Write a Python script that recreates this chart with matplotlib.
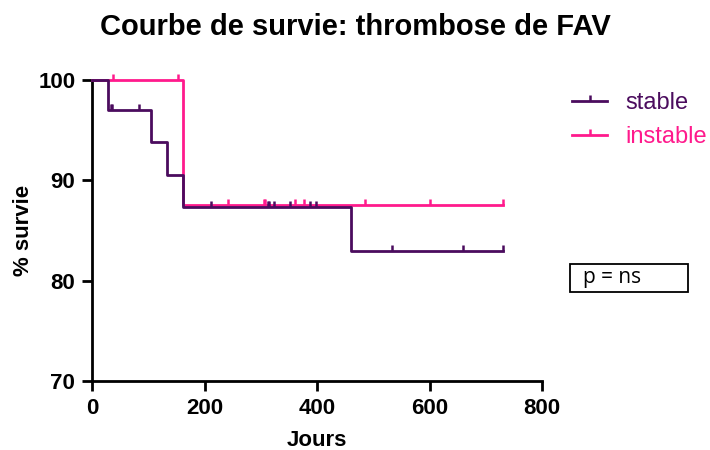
import matplotlib
matplotlib.use("Agg")
import matplotlib.pyplot as plt
from matplotlib.path import Path
from matplotlib.lines import Line2D
from matplotlib.patches import Rectangle

plt.rcParams['font.family'] = ['Liberation Sans', 'DejaVu Sans']

# step curves (day of change, survival after change)
stable_t = [0, 28, 105, 133, 162, 461, 731]
stable_s = [100, 97.0, 93.8, 90.5, 87.3, 83.0, 83.0]
instable_t = [0, 162, 731]
instable_s = [100, 87.5, 87.5]

# censored observations
stable_cens_t = [33, 35, 84, 212, 312, 314, 324, 352, 388, 399, 534, 659, 731]
instable_cens_t = [38, 152, 241, 306, 308, 361, 376, 485, 601, 731]

c_stable = '#4b0c5e'
c_instable = '#ff1a8c'

tick_up = Path([(0, 0), (0, 1)], [Path.MOVETO, Path.LINETO])


def surv_at(ts, ss, t):
    val = ss[0]
    for ti, si in zip(ts, ss):
        if t >= ti:
            val = si
    return val


fig = plt.figure(figsize=(7.1, 4.5), dpi=100)
ax = fig.add_axes([92 / 710, 69 / 450, 450 / 710, 301 / 450])

for ts, ss, cens, col in [(instable_t, instable_s, instable_cens_t, c_instable),
                          (stable_t, stable_s, stable_cens_t, c_stable)]:
    ax.step(ts, ss, where='post', color=col, lw=2, zorder=3, clip_on=False)
    ax.plot(cens, [surv_at(ts, ss, t) for t in cens], ls='none', marker=tick_up,
            ms=9, mew=1.8, color=col, zorder=4, clip_on=False)

ax.set_xlim(0, 800)
ax.set_ylim(70, 100)
ax.set_xticks([0, 200, 400, 600, 800])
ax.set_yticks([70, 80, 90, 100])
for s in ['top', 'right']:
    ax.spines[s].set_visible(False)
for s in ['left', 'bottom']:
    ax.spines[s].set_linewidth(2)
ax.tick_params(width=2, length=7, labelsize=16, pad=5)
for lab in ax.get_xticklabels() + ax.get_yticklabels():
    lab.set_fontweight('bold')

ax.set_xlabel('Jours', fontsize=16, fontweight='bold', labelpad=8)
ax.set_ylabel('% survie', fontsize=16, fontweight='bold', labelpad=3)
fig.suptitle('Courbe de survie: thrombose de FAV', fontsize=21, fontweight='bold', y=0.972)

handles = [Line2D([], [], color=c_stable, lw=2, marker=tick_up, ms=9, mew=1.8),
           Line2D([], [], color=c_instable, lw=2, marker=tick_up, ms=9, mew=1.8)]
leg = fig.legend(handles, ['stable', 'instable'], loc='upper left',
                 bbox_to_anchor=(572 / 710, 1 - 92 / 450), frameon=False,
                 borderaxespad=0, borderpad=0,
                 fontsize=17, numpoints=1, handlelength=1.5, handletextpad=0.75,
                 labelspacing=0.52)
for txt, col in zip(leg.get_texts(), [c_stable, c_instable]):
    txt.set_color(col)

fig.patches.append(Rectangle((570 / 710, 1 - 292 / 450), 118 / 710, 28 / 450,
                             transform=fig.transFigure, fc='white', ec='black', lw=1.3))
fig.text(583 / 710, 1 - 278 / 450, 'p = ns', fontsize=15, ha='left', va='center',
         family=['Open Sans', 'DejaVu Sans'])

fig.savefig('out.png', dpi=100)
